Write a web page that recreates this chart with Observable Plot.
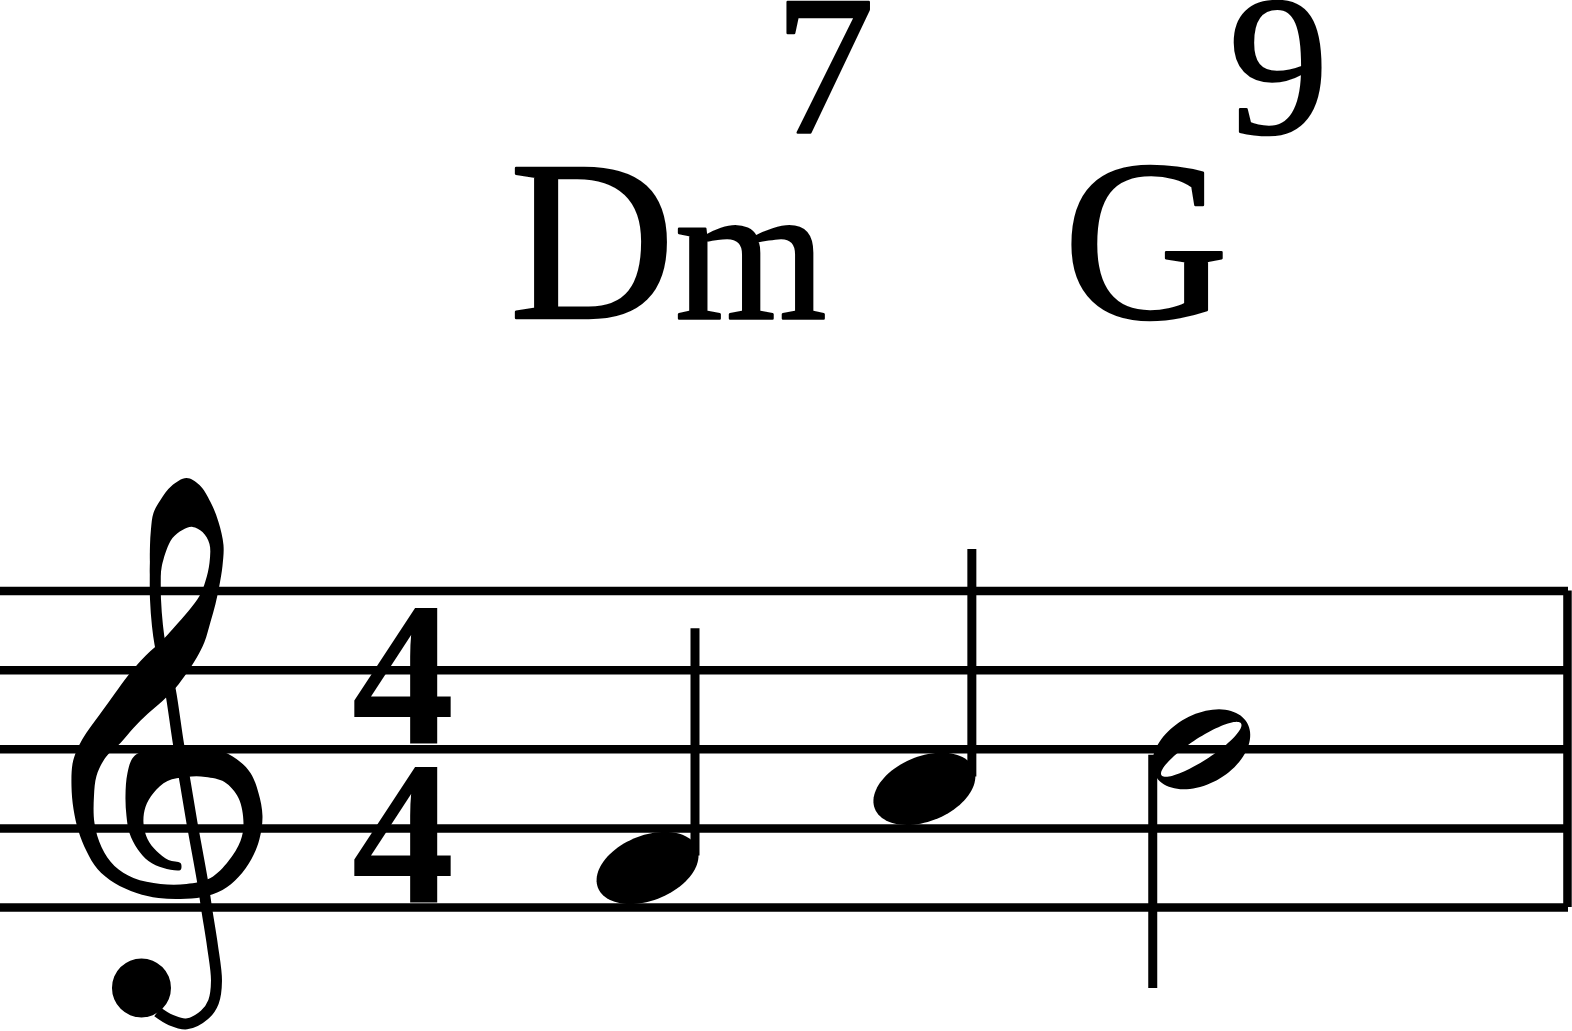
<!DOCTYPE html>
<html>
<head>
<meta charset="utf-8">
<script src="https://cdn.jsdelivr.net/npm/d3@7"></script>
<script src="https://cdn.jsdelivr.net/npm/@observablehq/plot@0.6"></script>
<style>
  html, body { margin: 0; padding: 0; background: #fff; }
  svg { display: block; }
</style>
</head>
<body>
<div id="chart"></div>
<script>
// ---------------- data ----------------
const notePitches    = ["F4", "A4", "B4"];
const noteDurations  = [1, 1, 2];          // beats (quarter = 1, half = 2)
const chordRoots      = ["D", "G"];
const chordQualities  = ["m", ""];
const chordExtensions = ["7", "9"];
const chordOnsets     = [0, 2];            // beat where each chord starts
const timeSignature   = ["4", "4"];        // numerator, denominator
const staffLineSteps  = [0, 2, 4, 6, 8];   // E4 G4 B4 D5 F5
const clefs           = ["G"];

// ---------------- layout (styles / engraving constants) ----------------
const W = 1572, H = 1031;
const SPACE = 79.1;                 // px per staff space
const STEP = SPACE / 2;             // px per staff step
const BOTTOM_LINE_PX = 907;
const NOTE_START = 8.18;            // staff spaces from left edge
const BEAT_SPACE = 3.5;             // staff spaces per beat
const CLEF_X = 2.111, TS_X = 5.088;
const STAFF_END = 19.823, BAR_X = 19.81;
const CHORD_STEP = 14.893, EXT_STEP = 19.595;
const SERIF = "Liberation Serif";

const letterIndex = {C: 0, D: 1, E: 2, F: 3, G: 4, A: 5, B: 6};
const stepOf = p => (+p.slice(1) - 4) * 7 + letterIndex[p[0]] - 2;

let acc = 0;
const notes = notePitches.map((p, i) => {
  const onset = acc; acc += noteDurations[i];
  const step = stepOf(p);
  return {pitch: p, dur: noteDurations[i], onset, step,
          x: NOTE_START + onset * BEAT_SPACE, up: step < 4};
});
const chords = chordRoots.map((r, i) => ({
  root: r, quality: chordQualities[i], ext: chordExtensions[i],
  x: NOTE_START + chordOnsets[i] * BEAT_SPACE
}));

// ---------------- glyph symbols ----------------
const REF = 79.1;
function ellipsePath(ctx, a, b, th, reverse) {
  const n = 90, c = Math.cos(th), s = Math.sin(th);
  for (let i = 0; i <= n; i++) {
    const t = (reverse ? -1 : 1) * 2 * Math.PI * i / n;
    const x = a * Math.cos(t), y = b * Math.sin(t);
    const X = x * c + y * s, Y = -x * s + y * c;
    i ? ctx.lineTo(X, Y) : ctx.moveTo(X, Y);
  }
  ctx.closePath();
}
const deg = Math.PI / 180;
const quarterHead = {draw(ctx, size) {
  const r = Math.sqrt(size / Math.PI);
  ellipsePath(ctx, 0.675 * r, 0.41 * r, 22 * deg, false);
}};
const halfHead = {draw(ctx, size) {
  const r = Math.sqrt(size / Math.PI);
  ellipsePath(ctx, 0.669 * r, 0.437 * r, 30 * deg, false);
  ellipsePath(ctx, 0.60 * r, 0.14 * r, 33 * deg, true);
}};

// treble clef outline (glyph shape, reference units)
const CLEF_ORIGIN = [167, 827.5];
const clefBand = [
  [186,477],[199,484],[210,501],[218,521],[223,544],[222,565],[219,584],[215,603],[210,621],[204,641],
  [196,657],[187,671],[175,687],[162,700],[147,713],[133,727],[120,742],[111,750],[104,758],[96,775],
  [93.5,795],[94,822],[101,846],[114,865],[133,877],[160,883],[186,883],[210,877],[228,860],[240,840],
  [243,822],[238,797],[224,781],[205,776],[186,776],[167,780],[153,792],[145,806],[143,822],[147,838],
  [156,850],[168,859],[180,862],[181,865],[180,869],
  [163,867],[148,860],[137,848],[129,832],[126,815],[125,795],[127,772],[133,756],[148,748],[170,745],
  [195,745],[218,749],[236,758],[250,772],[258,792],[262,815],[259,838],[251,858],[238,876],[222,889],
  [202,896],[180,898],[158,897],[136,892],[114,882],[97,868],[86,850],[78,830],[73,808],[71,785],
  [72,763],[76,750],[82,738],[90,726],[101,711],[114,693],[128,674],[140,660],[150,650],[158,643],
  [165,636],[174,626],[188,610],[199,595],[205,580],[209,562],[209,543],[202,531],[192,526],[182,529],
  [172,537],[166,549],[162,562],[158,578],[151,578],[149.5,560],[149.5,545],[150.5,528],[153,512],
  [160,499],[171,485]
];
const clefStem = [
  [155,552],[154.8,575],[155,598],[157,625],[159.5,643],[165,668],[170,690],[178,743],[185,783],
  [191.5,822],[197,852],[202.5,883],[206.5,910],[212,945],[216,980],[213,1001],[204,1014],[186,1023],
  [170,1019],[157,1011]
];
const clefBall = [141, 987, 29.5];

function clefGlyph(points, closed) {
  return {draw(ctx, size) {
    const k = Math.sqrt(size / Math.PI) / REF;
    const pts = points.map(([x, y]) => [(x - CLEF_ORIGIN[0]) * k, (y - CLEF_ORIGIN[1]) * k]);
    d3.line().curve(closed ? d3.curveCatmullRomClosed.alpha(0.5) : d3.curveCatmullRom.alpha(0.5))
      .context(ctx)(pts);
  }};
}
const clefBallGlyph = {draw(ctx, size) {
  const k = Math.sqrt(size / Math.PI) / REF;
  const cx = (clefBall[0] - CLEF_ORIGIN[0]) * k, cy = (clefBall[1] - CLEF_ORIGIN[1]) * k, rr = clefBall[2] * k;
  ctx.moveTo(cx + rr, cy);
  ctx.arc(cx, cy, rr, 0, 2 * Math.PI);
  ctx.closePath();
}};

// ---------------- text measuring ----------------
const mctx = document.createElement("canvas").getContext("2d");
function textWidth(t, size, weight = "normal") {
  mctx.font = `${weight} ${size}px "${SERIF}"`;
  return mctx.measureText(t).width;
}
const ROOT_SIZE = 229, QUAL_SIZE = 195, EXT_SIZE = 200, TS_SIZE = 206;
const ROOT_DX = -138;
const TS_LINE_HEIGHT = 158.5 / TS_SIZE;   // em between the two digit baselines

// ---------------- marks ----------------
const marks = [
  Plot.ruleY(staffLineSteps, {y: d => d, x1: () => 0, x2: () => STAFF_END, stroke: "black", strokeWidth: 8.5}),
  Plot.ruleX([BAR_X], {x: d => d, y1: () => staffLineSteps[0], y2: () => staffLineSteps[4], stroke: "black", strokeWidth: 8.5}),
  // clef
  Plot.dot(clefs, {x: () => CLEF_X, y: () => 2, r: SPACE, symbol: clefGlyph(clefBand, true), fill: "black", stroke: "none"}),
  Plot.dot(clefs, {x: () => CLEF_X, y: () => 2, r: SPACE, symbol: clefGlyph(clefStem, false), fill: "none", stroke: "black", strokeWidth: 11}),
  Plot.dot(clefs, {x: () => CLEF_X, y: () => 2, r: SPACE, symbol: clefBallGlyph, fill: "black", stroke: "none"}),
  // time signature (numerator over denominator, one text)
  Plot.text([timeSignature.join("\n")], {x: () => TS_X, y: () => staffLineSteps[0], text: d => d,
    fontFamily: SERIF, fontWeight: "bold", fontSize: TS_SIZE, lineHeight: TS_LINE_HEIGHT,
    textAnchor: "middle", lineAnchor: "bottom", dy: -5, fill: "black"}),
  // stems
  Plot.ruleX(notes, {x: d => d.x + (d.up ? 0.6 : -0.613),
    y1: d => d.step + (d.up ? 0.3 : -0.15), y2: d => d.step + (d.up ? 6.05 : -6.05),
    stroke: "black", strokeWidth: 9}),
  // noteheads
  Plot.dot(notes.filter(d => d.dur < 2), {x: "x", y: "step", r: SPACE, symbol: quarterHead, fill: "black", stroke: "none"}),
  Plot.dot(notes.filter(d => d.dur >= 2), {x: "x", y: "step", r: SPACE, symbol: halfHead, fill: "black", stroke: "none"}),
];

// chord names
chords.forEach(c => {
  const wRoot = textWidth(c.root, ROOT_SIZE);
  const wQual = c.quality ? textWidth(c.quality, QUAL_SIZE) : 0;
  const common = {x: "x", fontFamily: SERIF, textAnchor: "start", lineAnchor: "bottom",
                  fill: "black", stroke: "black", strokeWidth: 2.5};
  marks.push(Plot.text([c], {...common, y: () => CHORD_STEP, text: "root", fontSize: ROOT_SIZE, dx: ROOT_DX}));
  if (c.quality) marks.push(Plot.text([c], {...common, y: () => CHORD_STEP, text: "quality",
    fontSize: QUAL_SIZE, dx: ROOT_DX + wRoot}));
  const extDx = ROOT_DX + wRoot + wQual + (c.quality ? -52 : 0);
  marks.push(Plot.text([c], {...common, y: () => EXT_STEP, text: "ext", fontSize: EXT_SIZE, dx: extDx}));
});

const chart = Plot.plot({
  width: W, height: H, margin: 0,
  x: {domain: [0, W / SPACE], range: [0, W], axis: null},
  y: {domain: [(BOTTOM_LINE_PX - H) / STEP, BOTTOM_LINE_PX / STEP], range: [H, 0], axis: null},
  style: {background: "white", color: "black", overflow: "hidden"},
  marks
});
document.getElementById("chart").appendChild(chart);
</script>
</body>
</html>
